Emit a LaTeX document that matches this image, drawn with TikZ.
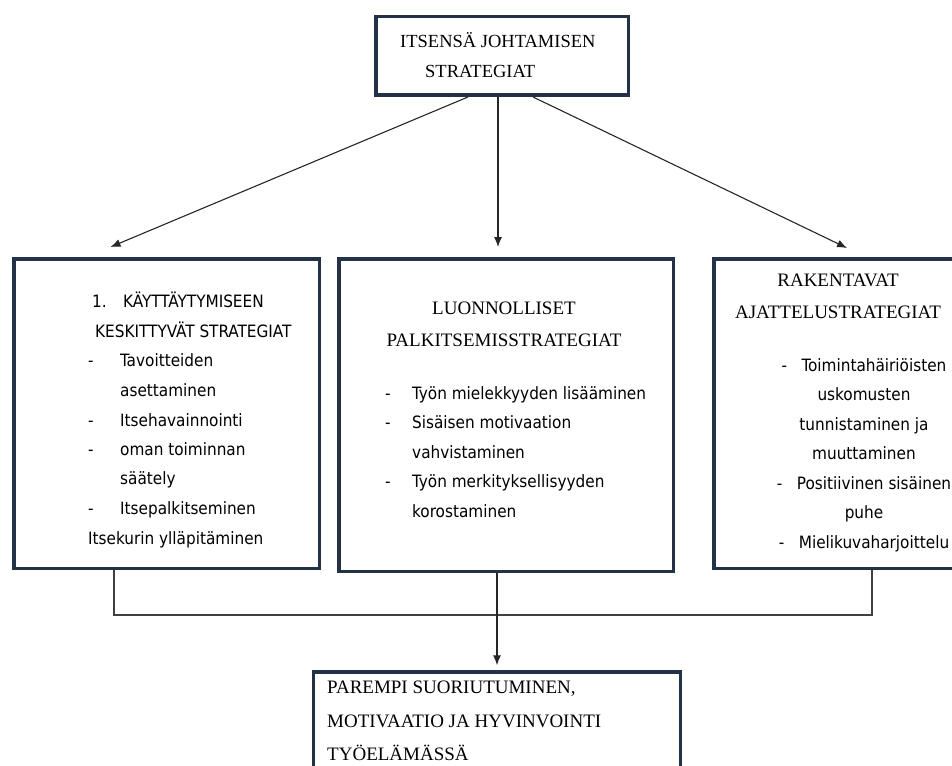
\documentclass[tikz,border=0pt]{standalone}
\usepackage{fontspec}
\setmainfont{Liberation Serif}
\newfontfamily\tahoma{DejaVu Sans Condensed}
\usetikzlibrary{positioning,arrows.meta}
\definecolor{boxnavy}{RGB}{35,50,70}
\newcommand{\viiva}[1]{\makebox[#1][l]{-}}

\begin{document}
\begin{tikzpicture}[x=1pt,y=-1pt]

% definitions
\tikzstyle{box} = [rectangle, draw=boxnavy, line width=3.5pt, fill=white]
\tikzstyle{head} = [align=center, inner sep=0pt, font=\fontsize{19}{32}\selectfont]
\tikzstyle{list} = [inner sep=0pt, font=\tahoma\fontsize{17}{29.5}\selectfont]

\tikzstyle{arrow} = [->, >={Latex[length=10pt,width=8pt]}, line width=1.1pt, black!85]
\tikzstyle{line} = [line width=1.1pt, black!75]

\useasboundingbox (0,0) rectangle (952,765);

% the graph
\node (isj) [box, minimum width=252.5pt, minimum height=78.5pt] at (502,56) {};
\node (isjt) [head, align=left, anchor=west, font=\fontsize{18.5}{30}\selectfont] at (400,55) {ITSENSÄ JOHTAMISEN\\\hspace*{25pt}STRATEGIAT};

\node (kks) [box, minimum width=305.5pt, minimum height=309.5pt] at (166.5,413.5) {};
\node (kkst) [list, align=left, anchor=west] at (88,420) {\makebox[35pt][l]{\hspace*{4pt}1.}KÄYTTÄYTYMISEEN\\
\hspace*{7pt}KESKITTYVÄT STRATEGIAT\\
\viiva{32pt}Tavoitteiden\\
\hspace*{32pt}asettaminen\\
\viiva{32pt}Itsehavainnointi\\
\viiva{32pt}oman toiminnan\\
\hspace*{32pt}säätely\\
\viiva{32pt}Itsepalkitseminen\\
Itsekurin ylläpitäminen};

\node (lps) [box, minimum width=334.5pt, minimum height=312.5pt] at (506,415) {};
\node (lpsh) [head] at (504,324) {LUONNOLLISET\\PALKITSEMISSTRATEGIAT};
\node (lpsl) [list, align=left, anchor=west] at (385,452) {\viiva{27pt}Työn mielekkyyden lisääminen\\
\viiva{27pt}Sisäisen motivaation\\
\hspace*{27pt}vahvistaminen\\
\viiva{27pt}Työn merkityksellisyyden\\
\hspace*{27pt}korostaminen};

\node (ras) [box, minimum width=274pt, minimum height=309.5pt] at (851,413.5) {};
\node (rash) [head] at (838,296) {RAKENTAVAT\\AJATTELUSTRATEGIAT};
\node (rasl) [list, align=center] at (864,455) {\viiva{20pt}Toimintahäiriöisten\\
uskomusten\\
tunnistaminen ja\\
muuttaminen\\
\viiva{20pt}Positiivinen sisäinen\\
puhe\\
\viiva{20pt}Mielikuvaharjoittelu};

\node (psm) [box, minimum width=367pt, minimum height=116pt] at (497,730) {};
\node (psmt) [head, align=left, anchor=west, font=\fontsize{19}{33.5}\selectfont] at (327,721) {PAREMPI SUORIUTUMINEN,\\MOTIVAATIO JA HYVINVOINTI\\TYÖELÄMÄSSÄ};


\draw [arrow] ([xshift=-34pt]isj.south) -- ([xshift=-56pt,yshift=10pt]kks.north);
\draw [arrow] ([xshift=-4pt]isj.south) -- ([xshift=-8pt,yshift=10pt]lps.north);
\draw [arrow] ([xshift=31pt]isj.south) -- ([xshift=-4pt,yshift=9pt]ras.north);

\coordinate (yhd) at (497,615);
\draw [line] ([xshift=-52.5pt]kks.south) |- (yhd) -| ([xshift=21pt]ras.south);
\draw [arrow] ([xshift=-9pt]lps.south) -- ([yshift=5pt]psm.north);

\end{tikzpicture}
\end{document}
